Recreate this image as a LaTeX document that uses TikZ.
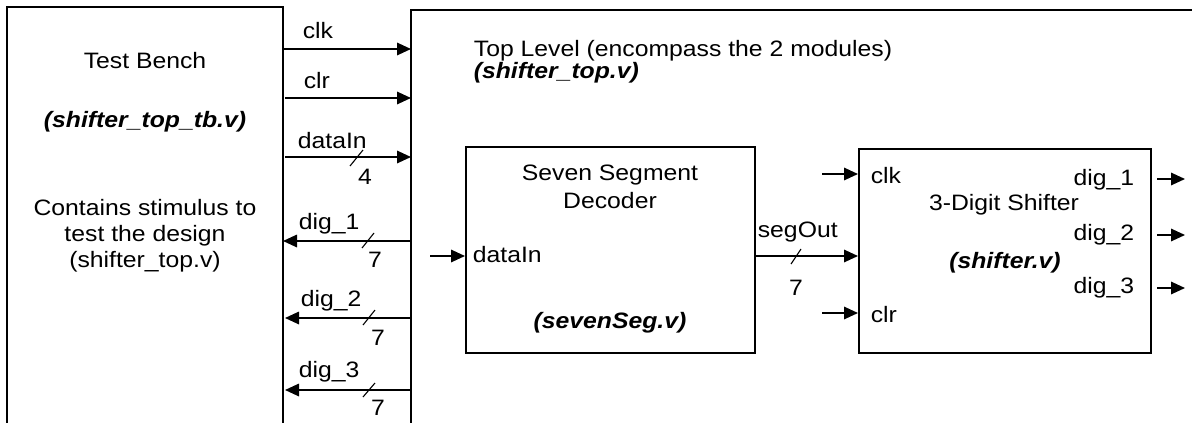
\documentclass[tikz,border=0pt]{standalone}
\usepackage{fontspec}
\setmainfont{Liberation Sans}[FakeStretch=1.11]
\usetikzlibrary{arrows.meta}
\begin{document}
\begin{tikzpicture}[x=1pt,y=-1pt, line width=1.7pt,
  sig/.style={-{Triangle[length=14pt,width=12.5pt]}},
  lbl/.style={inner sep=0pt, font=\fontsize{22.3}{26}\selectfont},
  fname/.style={inner sep=0pt, font=\fontsize{22.3}{26}\selectfont\bfseries\itshape},
  box/.style={draw, line width=1.7pt, anchor=north west, inner sep=0pt},
  tick/.style={line width=1.1pt}]
\useasboundingbox (0,0) rectangle (1192,423);
% open frames
\coordinate (tbBL) at (7,423);
\coordinate (tbTL) at (7,7);
\coordinate (tbTR) at (283,7);
\coordinate (tbBR) at (283,423);
\draw (tbBL) -- (tbTL) -- (tbTR) -- (tbBR);
\coordinate (tlBL) at (411,423);
\coordinate (tlTL) at (411,10);
\coordinate (tlTR) at (1192,10);
\draw (tlBL) -- (tlTL) -- (tlTR);
% test bench texts
\node[lbl, anchor=base] (tbname) at (145,68) {Test Bench};
\node[fname, anchor=base] (tbfile) at (145,127) {(shifter\_top\_tb.v)};
\node[lbl, anchor=base] (tbd1) at (145,215) {Contains stimulus to};
\node[lbl, anchor=base] (tbd2) at (145,241) {test the design};
\node[lbl, anchor=base] (tbd3) at (145,267) {(shifter\_top.v)};
% top level texts
\node[lbl, anchor=base west] (tlname) at (473,56) {Top Level (encompass the 2 modules)};
\node[fname, anchor=base west] (tlfile) at (473,78) {(shifter\_top.v)};
% signals between test bench and top level
\coordinate (a1) at (283,49);  \coordinate (b1) at (411,49);
\coordinate (a2) at (285,98);  \coordinate (b2) at (411,98);
\coordinate (a3) at (285,157); \coordinate (b3) at (411,157);
\coordinate (a4) at (283,241); \coordinate (b4) at (411,241);
\coordinate (a5) at (285,318); \coordinate (b5) at (411,318);
\coordinate (a6) at (285,390); \coordinate (b6) at (411,390);
\draw[sig] (a1) -- (b1);
\draw[sig] (a2) -- (b2);
\draw[sig] (a3) -- (b3);
\draw[sig] (b4) -- (a4);
\draw[sig] (b5) -- (a5);
\draw[sig] (b6) -- (a6);
\node[lbl, anchor=base west] (l1) at (302,38) {clk};
\node[lbl, anchor=base west] (l2) at (303,88) {clr};
\node[lbl, anchor=base west] (l3) at (297,148) {dataIn};
\node[lbl, anchor=base west] (l4) at (298,229) {dig\_1};
\node[lbl, anchor=base west] (l5) at (300,306) {dig\_2};
\node[lbl, anchor=base west] (l6) at (298,377) {dig\_3};
\coordinate (s3a) at (350,166); \coordinate (s3b) at (363,150);
\coordinate (s4a) at (362,248); \coordinate (s4b) at (374,233);
\coordinate (s5a) at (363,325); \coordinate (s5b) at (375,310);
\coordinate (s6a) at (363,397); \coordinate (s6b) at (375,383);
\draw[tick] (s3a) -- (s3b);
\draw[tick] (s4a) -- (s4b);
\draw[tick] (s5a) -- (s5b);
\draw[tick] (s6a) -- (s6b);
\node[lbl, anchor=base] (w3) at (365,184) {4};
\node[lbl, anchor=base] (w4) at (375,267) {7};
\node[lbl, anchor=base] (w5) at (378,345) {7};
\node[lbl, anchor=base] (w6) at (378,415) {7};
% seven segment decoder
\node[box, minimum width=289pt, minimum height=206pt] (seg) at (465,146) {};
\node[lbl, anchor=base] (segt1) at (610,180) {Seven Segment};
\node[lbl, anchor=base] (segt2) at (610,208) {Decoder};
\node[lbl, anchor=base west] (segin) at (472,262) {dataIn};
\node[fname, anchor=base] (segfile) at (610,328) {(sevenSeg.v)};
% shifter
\node[box, minimum width=292pt, minimum height=204pt] (shf) at (858,148) {};
\node[lbl, anchor=base west] (shclk) at (870,183) {clk};
\node[lbl, anchor=base west] (shclr) at (870,322) {clr};
\node[lbl, anchor=base] (sht) at (1004,210) {3-Digit Shifter};
\node[fname, anchor=base] (shfile) at (1005,268) {(shifter.v)};
\node[lbl, anchor=base east] (sd1) at (1135,185) {dig\_1};
\node[lbl, anchor=base east] (sd2) at (1135,240) {dig\_2};
\node[lbl, anchor=base east] (sd3) at (1135,293) {dig\_3};
% inner connections
\coordinate (din) at (430,256);
\coordinate (sy) at (0,256);
\draw[sig] (din) -- (seg.west |- din);
\draw[sig] (seg.east |- sy) -- (shf.west |- sy);
\node[lbl, anchor=base west] (segout) at (757,237) {segOut};
\coordinate (ssa) at (791,264); \coordinate (ssb) at (801,249);
\draw[tick] (ssa) -- (ssb);
\node[lbl, anchor=base] (w7) at (796,295) {7};
\coordinate (cin) at (822,174);
\coordinate (rin) at (822,313);
\draw[sig] (cin) -- (shf.west |- cin);
\draw[sig] (rin) -- (shf.west |- rin);
\coordinate (o1a) at (1157,179); \coordinate (o1b) at (1185,179);
\coordinate (o2a) at (1157,235); \coordinate (o2b) at (1185,235);
\coordinate (o3a) at (1157,288); \coordinate (o3b) at (1185,288);
\draw[sig] (o1a) -- (o1b);
\draw[sig] (o2a) -- (o2b);
\draw[sig] (o3a) -- (o3b);
\end{tikzpicture}
\end{document}
